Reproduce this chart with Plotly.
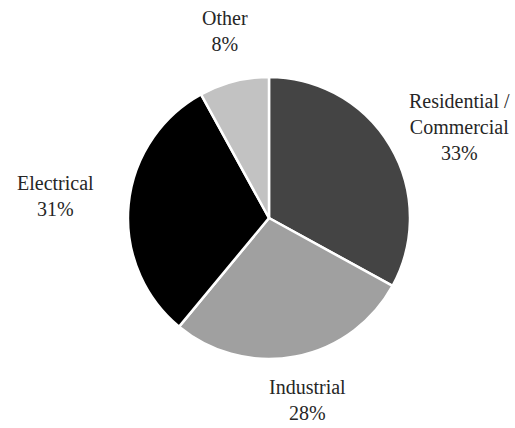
import plotly.graph_objects as go

# Market share by application segment
labels = ["Residential / Commercial", "Industrial", "Electrical", "Other"]
values = [33, 28, 31, 8]
colors = ["#444444", "#a0a0a0", "#000000", "#c2c2c2"]

# Label block centres (paper coordinates) for each segment
label_pos = [(0.8932, 0.7033), (0.598, 0.0643), (0.1068, 0.542), (0.4369, 0.9287)]

fig = go.Figure(
    go.Pie(
        labels=labels,
        values=values,
        sort=False,
        direction="clockwise",
        rotation=0,
        marker=dict(colors=colors, line=dict(color="white", width=2.5)),
        textinfo="none",
        hoverinfo="label+percent",
        domain=dict(x=[0.2485, 0.7961], y=[0.1612, 0.8201]),
        showlegend=False,
    )
)

for lab, val, (x, y) in zip(labels, values, label_pos):
    fig.add_annotation(
        x=x,
        y=y,
        xref="paper",
        yref="paper",
        xanchor="center",
        yanchor="middle",
        text=lab.replace(" / ", " /<br>") + f"<br>{val}%",
        showarrow=False,
        align="center",
        font=dict(family="Times New Roman", size=20, color="#262626"),
    )

fig.update_layout(
    width=515,
    height=428,
    margin=dict(l=0, r=0, t=0, b=0),
    paper_bgcolor="white",
    plot_bgcolor="white",
    font=dict(family="Times New Roman"),
)

fig.write_html("out.html")
